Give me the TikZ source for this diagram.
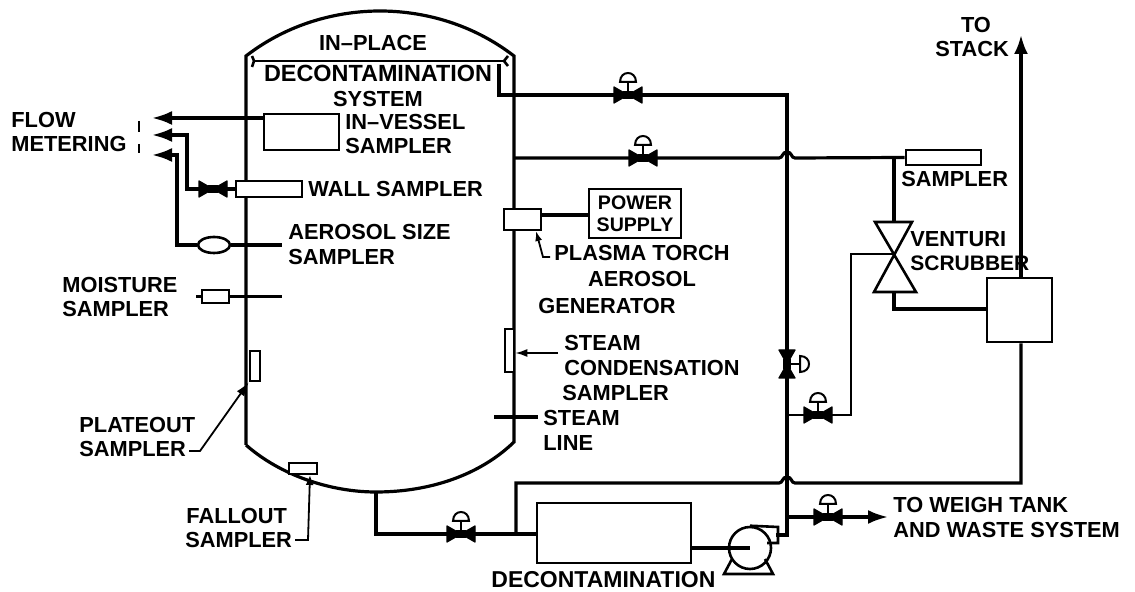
\documentclass[tikz,border=0pt]{standalone}
\usepackage{fontspec}
\setmainfont{Liberation Sans}
\usepackage{tikz}
\usetikzlibrary{shapes.geometric, arrows.meta, positioning, calc}
\tikzset{
    pipe/.style={line width=1.6pt, line join=miter},
    thinpipe/.style={line width=1.3pt},
    leader/.style={line width=0.9pt},
    flowarrow/.style={pipe, -{Latex[length=10pt,width=7pt]}},
    equip/.style 2 args={draw, line width=1.3pt, fill=white, inner sep=0pt, minimum width=#1*0.5pt, minimum height=#2*0.5pt},
    lbl/.style={font=\fontsize{10.9}{12}\selectfont\bfseries, inner sep=0pt, anchor=west},
    lblc/.style={lbl, anchor=center},
    bowtie/.pic={
        \filldraw[line width=0.6pt, line join=round] (-14,-8) -- (14,8) -- (14,-8) -- (-14,8) -- cycle;
        \fill (-5,-4) rectangle (5,4);
    },
    valve/.pic={
        \filldraw[line width=0.6pt, line join=round] (-14,-8) -- (14,8) -- (14,-8) -- (-14,8) -- cycle;
        \fill (-5,-4) rectangle (5,4);
        \draw[line width=1pt] (0,0) -- (0,-13);
        \draw[line width=1pt] (-8,-13) .. controls (-8,-25) and (8,-25) .. (8,-13) -- cycle;
    }
}
\begin{document}
\begin{tikzpicture}[x=0.5pt,y=-0.5pt]
\useasboundingbox (0,0) rectangle (1135,592);

% Vessel shell
\coordinate (vtl) at (246,56);
\coordinate (vtr) at (514,56);
\coordinate (vbl) at (246,445);
\coordinate (vbr) at (514,442);
\coordinate (vbot) at (376,492);
\draw[pipe] (vbl) -- (vtl) .. controls (290,22) and (340,11) .. (380,11) .. controls (420,11) and (470,22) .. (vtr) -- (vbr)
    .. controls (480,475) and (430,492) .. (vbot) .. controls (330,492) and (280,475) .. (vbl);

% Spray header inside the dome
\coordinate (trayl) at (254,61);
\coordinate (trayr) at (504,61);
\draw[thinpipe] (trayl) -- (trayr);
\draw[thinpipe] (252,56) -- (trayl) -- (252,67);
\draw[thinpipe] (508,56) -- (trayr) -- (508,66);

% Equipment boxes
\node[equip={75}{36}] (invessel) at (301.5,132) {};
\node[equip={66}{16}] (wallbox) at (269,189) {};
\node[equip={27}{13}] (moistbox) at (215.5,296.5) {};
\node[equip={10}{30}] (platebox) at (255,366) {};
\node[equip={28}{11}] (fallbox) at (303,468.5) {};
\node[equip={9}{43}] (condbox) at (509.5,350.5) {};
\node[equip={37}{21}] (torch) at (522.5,219.5) {};
\node[equip={92}{49}] (power) at (635,213.5) {};
\node[equip={75}{15}] (ventsampler) at (943.5,157.5) {};
\node[equip={65}{64}] (scrubbox) at (1019.5,310) {};
\node[equip={154}{60}] (decontbox) at (614,533) {};
\node[draw, line width=1.3pt, fill=white, ellipse, inner sep=0pt, minimum width=16pt, minimum height=8pt] (aerosol) at (214,245) {};

% Sampling lines to flow metering
\coordinate (tipa) at (152,118);
\coordinate (tipb) at (152,135);
\coordinate (tipc) at (152,155);
\draw[flowarrow] (invessel.west |- tipa) -- (tipa);
\draw[flowarrow] (wallbox.west) -- (187,189) -- (187,135) -- (tipb);
\draw[flowarrow] (aerosol.west) -- (177,245) -- (177,155) -- (tipc);
\draw[pipe] (aerosol.east) -- (282,245);
\draw[pipe] (196,296.5) -- (moistbox.west);
\draw[pipe] (moistbox.east) -- (282,296.5);
\pic at (213,189) {bowtie};
\draw[line width=1pt] (139,121) -- (139,132) (139,144) -- (139,153);

% Process piping, first the upper loop
\coordinate (header) at (787,95);
\coordinate (lowtee) at (787,535);
\draw[pipe] (499,64) -- (499,95) -- (header) -- (lowtee) -- (776,535);
\draw[pipe] (514,158) -- (779,158) .. controls (783,158) and (782,152) .. (787,152) .. controls (792,152) and (791,158) .. (795,158) -- (ventsampler.west);

% Venturi
\coordinate (venttop) at (894,222);
\coordinate (ventwaist) at (894,254);
\coordinate (ventbot) at (894,292);
\draw[pipe] (894,158) -- (venttop);
\draw[thinpipe, line join=miter] (875,222) -- (912,222) -- (874,292) -- (916,292) -- cycle;
\draw[thinpipe] (ventwaist) -- (851,254) -- (851,415) -- (787,415);
\draw[pipe] (ventbot) -- (894,309) -- (scrubbox.west |- 0,309);

% Stack and return line
\coordinate (stacktip) at (1021,35);
\draw[pipe, -{Latex[length=9.5pt,width=7pt]}] (scrubbox.north -| stacktip) -- (stacktip);
\draw[pipe] (scrubbox.south -| stacktip) -- (1021,483) -- (795,483) .. controls (791,483) and (792,477) .. (787,477) .. controls (782,477) and (783,483) .. (779,483) -- (516,483) -- (516,534);

% Drain line, pump and waste
\draw[pipe] (vbot) -- (376,534) -- (decontbox.west |- 0,534);
\coordinate (wastetip) at (888,517);
\draw[flowarrow] (787,517) -- (wastetip);
\node[draw, line width=1.3pt, circle, inner sep=0pt, minimum size=21pt] (pump) at (750,548) {};
\draw[pipe] (decontbox.east |- 0,548) -- (pump.center);
\draw[thinpipe] (pump.north) -- (778,527) -- (778,543) -- (767,543);
\draw[thinpipe] (732,559) -- (724,574) -- (773,574) -- (765,559);

% Valves
\foreach \x/\y in {628/95, 643/158, 461/534, 818/415, 828/517} {
    \pic at (\x,\y) {valve};
}
\pic[rotate=-90] at (787,364) {valve};

% Other attachments and leaders
\draw[pipe] (torch.east |- 0,215) -- (power.west |- 0,215);
\draw[pipe] (494,417) -- (538,417);
\draw[leader, -{Latex[length=6pt,width=4pt]}] (558,353) -- (condbox.east |- 0,353);
\draw[leader, -{Latex[length=5pt,width=3.5pt]}] (550,257) -- (543,257) -- (536,231);
\draw[leader, -{Latex[length=7pt,width=4.5pt]}] (189,451) -- (200,451) -- (platebox.south west);
\draw[leader, -{Latex[length=5pt,width=4pt]}] (295,540) -- (308,540) -- (310,475);

% Labels
\node[lblc] (inplace) at (373,43) {IN--PLACE};
\node[lblc, font=\fontsize{11.7}{12}\selectfont\bfseries] (decon) at (378,73) {DECONTAMINATION};
\node[lblc] (system) at (378,99) {SYSTEM};
\node[lbl] (invessela) at (345,122) {IN--VESSEL};
\node[lbl] (invesselb) at (345,146) {SAMPLER};
\node[lbl] (flow) at (11,120) {FLOW};
\node[lbl] (metering) at (11,144) {METERING};
\node[lbl] (wall) at (308,189) {WALL SAMPLER};
\node[lbl] (aera) at (288,232) {AEROSOL SIZE};
\node[lbl] (aerb) at (288,257) {SAMPLER};
\node[lbl] (moista) at (62,285) {MOISTURE};
\node[lbl] (moistb) at (62,309) {SAMPLER};
\node[lbl] (platea) at (79,425) {PLATEOUT};
\node[lbl] (plateb) at (79,449) {SAMPLER};
\node[lbl] (falla) at (186,516) {FALLOUT};
\node[lbl] (fallb) at (185,540) {SAMPLER};
\node[lbl, font=\fontsize{11.5}{12}\selectfont\bfseries] (deconb) at (491,580) {DECONTAMINATION};
\node[lblc, font=\fontsize{9.8}{12}\selectfont\bfseries] (powera) at (635,203) {POWER};
\node[lblc, font=\fontsize{9.8}{12}\selectfont\bfseries] (powerb) at (635,225) {SUPPLY};
\node[lbl] (plasma) at (554,253) {PLASMA TORCH};
\node[lblc] (aero) at (642,279) {AEROSOL};
\node[lbl] (gen) at (538,306) {GENERATOR};
\node[lbl] (steama) at (564,343) {STEAM};
\node[lbl] (steamb) at (564,368) {CONDENSATION};
\node[lbl] (steamc) at (562,393) {SAMPLER};
\node[lbl] (linea) at (543,418) {STEAM};
\node[lbl] (lineb) at (543,443) {LINE};
\node[lbl] (vsamp) at (901,179) {SAMPLER};
\node[lbl] (venta) at (910,239) {VENTURI};
\node[lbl, font=\fontsize{10.5}{12}\selectfont\bfseries] (ventb) at (910,263) {SCRUBBER};
\node[lblc] (toa) at (976,25) {TO};
\node[lblc] (tob) at (972,49) {STACK};
\node[lbl] (weigha) at (893,505) {TO WEIGH TANK};
\node[lbl] (weighb) at (893,530) {AND WASTE SYSTEM};
\end{tikzpicture}
\end{document}
